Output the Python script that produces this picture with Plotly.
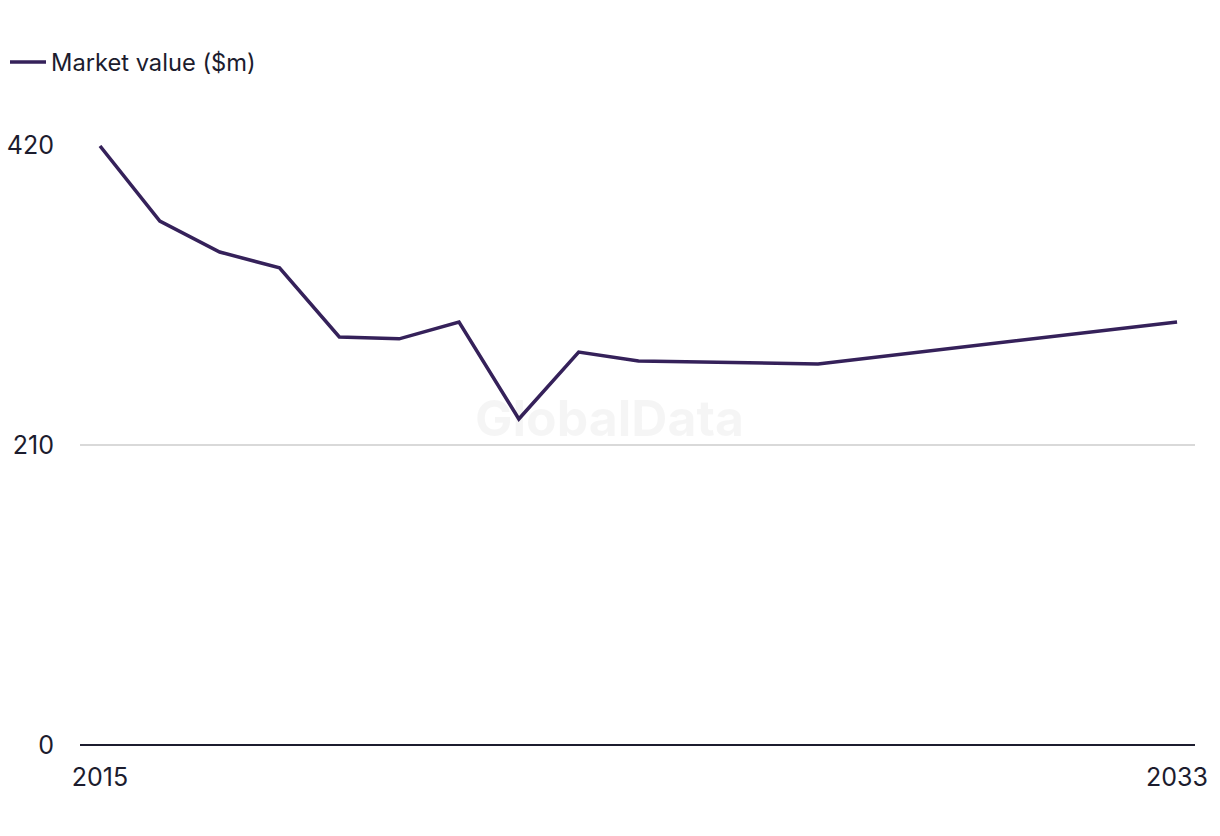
import plotly.graph_objects as go

years = [2015, 2016, 2017, 2018, 2019, 2020, 2021, 2022, 2023, 2024, 2027, 2033]
market_value = [419.3, 366.8, 345.1, 334.0, 285.6, 284.3, 296.0, 228.2, 275.1, 268.8, 266.7, 296.1]
series_name = "Market value ($m)"
y_ticks = [0, 210, 420]
x_ticks = [2015, 2033]

LINE = "#35215a"
TEXT = "#1c1c2e"
FONT = "Inter, Roboto, Arial, sans-serif"

fig = go.Figure()
fig.add_trace(go.Scatter(
    x=years, y=market_value, mode="lines", name=series_name,
    line=dict(color=LINE, width=3.5), cliponaxis=False,
    hovertemplate="%{x}: %{y}<extra></extra>",
))

fig.update_layout(
    width=1220, height=836,
    margin=dict(l=80, r=25, t=145, b=91),
    paper_bgcolor="white", plot_bgcolor="white",
    font=dict(family=FONT, size=23, color=TEXT),
    showlegend=True,
    legend=dict(
        orientation="h", xref="container", yref="container",
        x=5 / 1220, xanchor="left", y=1 - 62 / 836, yanchor="middle",
        font=dict(family=FONT, size=23.7, color=TEXT), itemwidth=36,
        bgcolor="rgba(0,0,0,0)",
    ),
    xaxis=dict(
        range=[2014.666, 2033.30], tickvals=x_ticks, ticktext=[str(v) for v in x_ticks],
        showgrid=False, zeroline=False, showline=False, ticks="",
        ticklabelstandoff=15, tickfont=dict(size=25, color=TEXT), automargin=False,
    ),
    yaxis=dict(
        range=[0, 420], tickvals=y_ticks, ticktext=[str(v) for v in y_ticks],
        showgrid=True, gridcolor="#d9d9d9", gridwidth=1.5,
        zeroline=True, zerolinecolor="#1c1c2e", zerolinewidth=2,
        showline=False, ticks="", ticklabelstandoff=25, automargin=False,
        tickfont=dict(size=25, color=TEXT),
    ),
    annotations=[dict(
        text="<b>GlobalData</b>", x=0.475, y=0.545, xref="paper", yref="paper",
        showarrow=False, font=dict(family=FONT, size=50, color="rgba(0,0,0,0.04)"),
    )],
)

fig.write_html("out.html")
